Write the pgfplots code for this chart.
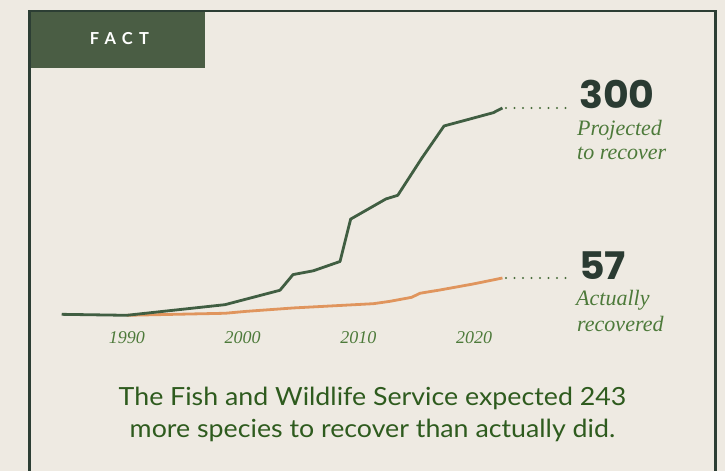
\documentclass[border=0pt]{standalone}
\usepackage{pgfplots}
\pgfplotsset{compat=1.18}
\usepackage{fontspec}
\newfontfamily\numfont{Poppins}[FakeStretch=1.04]
\newfontfamily\capfont{Lato}[FakeStretch=1.07]
\newfontfamily\factfont{Lato}[LetterSpace=38]
\newfontfamily\itfont{Liberation Serif}
\definecolor{bg}{HTML}{EEEAE2}
\definecolor{framec}{HTML}{2C3E34}
\definecolor{tabc}{HTML}{4A5D44}
\definecolor{gline}{HTML}{405E42}
\definecolor{oline}{HTML}{E0955D}
\definecolor{numc}{HTML}{2A3B32}
\definecolor{lblc}{HTML}{4D7A3A}
\definecolor{capc}{HTML}{2E5B1E}
\definecolor{dotc}{HTML}{4A6E3C}
\begin{document}
\begin{tikzpicture}[x=1bp,y=1bp]
\useasboundingbox (0,0) rectangle (725,471);
\fill[bg] (0,0) rectangle (725,471);
\fill[tabc] (29.5,459.7) rectangle (204.7,403.3);
\draw[framec, line width=2.2bp] (29.5,0) -- (29.5,459.7) -- (715.5,459.7) -- (715.5,0);
\node[white, inner sep=0pt] at (119.5,432.7) {\factfont\fontsize{16.5bp}{16.5bp}\selectfont\bfseries FACT};

\begin{axis}[
  at={(46bp,149.6bp)}, anchor=south west,
  scale only axis, width=474.4bp, height=227.4bp,
  xmin=1983, xmax=2024, ymin=-5, ymax=320,
  clip=false,
  axis line style={draw=none},
  hide y axis,
  xtick={1990,2000,2010,2020},
  xticklabels={1990,2000,2010,2020},
  major tick length=0pt,
  xticklabel style={anchor=north, inner sep=0pt, yshift=-10bp, text=lblc,
    font=\itfont\fontsize{18bp}{18bp}\selectfont\itshape},
]
\addplot[oline, line width=2.8bp, line join=round] coordinates {
(1989.97,3.7) (1998.47,6.6) (2000.35,9.4) (2004.38,14.2) (2011.29,20.3)
(2012.73,23.7) (2014.6,29.4) (2015.32,35.2) (2017.05,39.9) (2019.93,48.5) (2022.45,57)
};
\addplot[gline, line width=2.8bp, line join=round] coordinates {
(1984.36,5.1) (1989.97,3.7) (1998.47,18.9) (2003.22,39.5) (2004.35,61.9)
(2006.1,67.3) (2008.41,80.6) (2009.33,141.2) (2012.38,170) (2013.4,175.2)
(2015.47,228.1) (2017.4,274.3) (2019.65,284.3) (2021.66,293.3) (2022.45,300)
};
\addplot[dotc, line width=2.3bp, line cap=round, dash pattern=on 0pt off 8.5bp] coordinates {(2022.76,300) (2028.0,300)};
\addplot[dotc, line width=2.3bp, line cap=round, dash pattern=on 0pt off 8.5bp] coordinates {(2022.76,57) (2028.0,57)};
\end{axis}

\node[anchor=base west, inner sep=0pt, numc] at (579,362) {\numfont\bfseries\fontsize{38bp}{38bp}\selectfont 300};
\node[anchor=base west, inner sep=0pt, lblc] at (577,335) {\itfont\fontsize{22bp}{24bp}\selectfont\itshape Projected};
\node[anchor=base west, inner sep=0pt, lblc] at (577,311) {\itfont\fontsize{22bp}{24bp}\selectfont\itshape to recover};
\node[anchor=base west, inner sep=0pt, numc] at (579,191) {\numfont\bfseries\fontsize{38bp}{38bp}\selectfont 57};
\node[anchor=base west, inner sep=0pt, lblc] at (576,165) {\itfont\fontsize{22bp}{24bp}\selectfont\itshape Actually};
\node[anchor=base west, inner sep=0pt, lblc] at (577,139.5) {\itfont\fontsize{22bp}{24bp}\selectfont\itshape recovered};

\node[anchor=base, inner sep=0pt, capc] at (372.5,65) {\capfont\fontsize{25bp}{25bp}\selectfont The Fish and Wildlife Service expected 243};
\node[anchor=base, inner sep=0pt, capc] at (372.5,33.5) {\capfont\fontsize{25bp}{25bp}\selectfont more species to recover than actually did.};
\end{tikzpicture}
\end{document}
